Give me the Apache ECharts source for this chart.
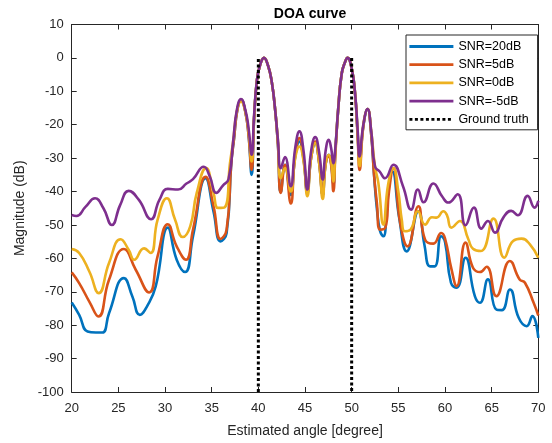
<!DOCTYPE html>
<html>
<head>
<meta charset="utf-8">
<script src="https://cdn.jsdelivr.net/npm/echarts@6/dist/echarts.min.js"></script>
<style>
html,body{margin:0;padding:0;background:#fff;}
#chart{width:552px;height:443px;}
</style>
</head>
<body>
<div id="chart"></div>
<script>
// ---- data: [angle (deg), magnitude (dB)] ----
const snr20 = [
 [20,-73.2],[20.8,-76.9],[21.7,-81.9],[22.6,-82.2],[23.3,-82.2],[24.0,-76.4],[25.6,-65.9],[26.5,-71.4],
 [27.3,-76.9],[28.1,-74.2],[29.0,-68.4],[30.3,-50.8],[31.25,-60.4],[32.15,-64.1],[33.0,-53.4],[34.35,-36],
 [35.2,-46],[35.95,-54.9],[36.6,-52.4],[37.1,-31.5],[37.4,-24],[37.75,-15.5],[38.15,-12.5],[38.6,-16],
 [38.95,-23],[39.28,-35],[39.55,-18],[39.85,-6.7],[40.2,-2],[40.6,0],[41.05,-2.4],[41.45,-7.4],[41.8,-15.5],
 [42.1,-26],[42.4,-40.2],[42.86,-32],[43.47,-41],[43.95,-29.5],[44.4,-25],[44.85,-30.5],[45.25,-40.5],
 [45.65,-30],[46.1,-25.5],[46.5,-31],[46.9,-41],[47.2,-32],[47.55,-29],[47.8,-31.5],[48.04,-38],
 [48.25,-28],[48.58,-14.5],[48.94,-4.6],[49.3,-1.2],[49.55,0],[50.0,-3.1],[50.36,-10.5],[50.65,-23],
 [50.85,-31],[51.25,-20.5],[51.7,-15.3],[52.1,-23],[52.4,-35],[52.7,-45],[53.05,-51.9],[53.4,-53.4],
 [53.9,-40],[54.36,-34],[55.1,-48],[55.9,-57.9],[57.15,-45.9],[57.8,-56],[58.4,-62.4],[58.9,-62.4],
 [59.6,-53.4],[60.0,-55],[60.64,-67.3],[61.25,-68.8],[62.2,-59.8],[63.2,-71.3],[63.75,-73.3],[64.6,-66.3],
 [65.5,-75.3],[66.1,-75.5],[66.96,-69.3],[67.9,-77.8],[68.75,-80.3],[69.36,-77.3],[70,-83.8]
];
const snr5 = [
 [20,-64.2],[20.8,-67.4],[21.9,-73],[22.86,-77.4],[24.0,-66.4],[25.6,-57.2],[26.86,-63.4],[28.3,-70.2],
 [29.2,-59.4],[30.3,-49.8],[31.25,-56.4],[32.25,-60.4],[33.0,-51.4],[34.35,-35.6],[35.2,-44.4],[35.95,-54.2],
 [36.6,-51.4],[37.1,-31.5],[37.4,-24],[37.75,-15.5],[38.15,-12.5],[38.6,-16],[38.95,-23],[39.28,-33.5],
 [39.55,-18],[39.85,-6.7],[40.2,-2],[40.6,0],[41.05,-2.4],[41.45,-7.4],[41.8,-15.5],[42.1,-26],[42.4,-40.4],
 [42.86,-32],[43.47,-43.6],[43.95,-29],[44.4,-24],[44.85,-30],[45.25,-40],[45.65,-30],[46.1,-25],[46.5,-31],
 [46.9,-41],[47.2,-32],[47.55,-29.5],[47.8,-32],[48.04,-39.9],[48.25,-29],[48.58,-14.5],[48.94,-4.6],
 [49.3,-1.2],[49.55,0],[50.0,-3.1],[50.36,-10.5],[50.65,-24],[50.85,-33.5],[51.25,-20.5],[51.7,-15.3],
 [52.1,-23],[52.4,-35],[52.7,-43.4],[53.05,-51.4],[53.6,-50.9],[54.0,-40],[54.47,-33],[55.2,-49.4],
 [56.0,-56.4],[57.15,-44.4],[57.87,-54.4],[58.75,-55.6],[59.6,-52.4],[60.0,-54],[60.7,-63.3],[61.25,-68.3],
 [62.2,-55.3],[63.0,-62.8],[63.75,-64.1],[64.46,-62.5],[65.5,-71.3],[66.96,-60.8],[68.0,-66.3],[68.57,-67.3],
 [69.5,-73.3],[70,-77.1]
];
const snr0 = [
 [20,-57.2],[20.8,-58.4],[21.9,-64],[22.9,-70.4],[24.0,-61.4],[25.25,-54.3],[26.1,-57.4],[26.7,-60.4],
 [27.75,-57],[28.46,-58.4],[29.2,-48.5],[30.2,-42],[31.07,-48.4],[31.9,-53.6],[32.7,-50.4],[33.4,-40.4],
 [34.4,-33],[35.2,-40.4],[35.7,-44.9],[36.4,-44.7],[36.96,-31.5],[37.3,-25],[37.7,-16],[38.15,-13],
 [38.6,-16],[38.95,-22],[39.28,-31],[39.55,-17.5],[39.85,-6.7],[40.2,-2],[40.6,0],[41.05,-2.4],[41.45,-7.4],
 [41.8,-15.5],[42.1,-25],[42.4,-36],[42.86,-33],[43.47,-40],[43.95,-30],[44.4,-26.5],[44.85,-31],
 [45.25,-41.4],[45.65,-30],[46.1,-25.5],[46.5,-31],[46.9,-42.2],[47.2,-32],[47.55,-29],[47.8,-31],
 [48.04,-37],[48.25,-28],[48.58,-14.5],[48.94,-4.6],[49.3,-1.2],[49.55,0],[50.0,-3.1],[50.36,-10.5],
 [50.65,-23],[50.85,-32.4],[51.25,-20],[51.7,-15.3],[52.1,-22],[52.5,-32.5],[52.86,-37.4],[53.4,-49.9],
 [53.9,-38],[54.47,-33],[55.0,-40],[55.37,-48.4],[55.7,-51.9],[56.3,-51.4],[57.1,-45.9],[57.87,-49.9],
 [58.6,-47.7],[59.1,-47.8],[59.83,-45.9],[60.2,-47],[60.7,-50.8],[61.6,-48.8],[62.5,-54.3],[63.0,-57.1],
 [63.86,-57.8],[65.2,-48.1],[66.36,-59.8],[67.3,-54.8],[68.2,-54.1],[69.1,-55.8],[70,-59.8]
];
const snrm5 = [
 [20,-47],[20.5,-47.3],[21.5,-44.5],[22.5,-42],[23.4,-45],[24.3,-50],[25.2,-44],[26.1,-39.8],[27.2,-42.5],
 [28.5,-48.3],[29.4,-42.5],[30.3,-39.2],[31.4,-39.4],[32.3,-37.6],[33.0,-36.3],[34.15,-32.6],[34.8,-35.5],
 [35.5,-40.4],[36.2,-38.2],[36.8,-36.3],[37.3,-25],[37.7,-15.5],[38.15,-12.3],[38.6,-15.5],[38.95,-21],
 [39.28,-29],[39.55,-17],[39.85,-6.6],[40.2,-2],[40.6,0],[41.05,-2.4],[41.45,-7.4],[41.8,-15.5],[42.1,-24.5],
 [42.4,-33],[42.86,-29.7],[43.47,-38.4],[43.95,-27],[44.4,-22],[44.85,-28],[45.25,-39.4],[45.65,-28],
 [46.1,-23.7],[46.5,-28],[46.9,-36.4],[47.2,-28],[47.55,-24.5],[47.8,-27],[48.04,-31.5],[48.25,-27],
 [48.58,-14.5],[48.94,-4.6],[49.3,-1.2],[49.55,0],[50.0,-3.1],[50.36,-10.5],[50.65,-22],[50.83,-29.5],
 [51.25,-20],[51.7,-15.3],[52.1,-22],[52.5,-32.5],[53.0,-34],[53.58,-36],[54.47,-32],[55.5,-38.4],
 [56.37,-45.4],[57.1,-39.4],[57.7,-43.2],[58.76,-37.6],[59.7,-41.5],[60.36,-43.3],[61.36,-40.8],[62.2,-50.1],
 [63.1,-44.8],[63.9,-51.1],[64.6,-48.8],[65.36,-52.3],[66.25,-47.8],[67.1,-45.8],[67.8,-47.1],[68.86,-41.3],
 [69.6,-44.8],[70,-42.8]
];
const truthA = [[40,-100],[40,0]];
const truthB = [[50,0],[50,-100]];
const seriesNames = ['SNR=20dB','SNR=5dB','SNR=0dB','SNR=-5dB','Ground truth'];
const seriesColors = ['#0072BD','#D95319','#EDB120','#7E2F8E','#000000'];

const FONT = 'Liberation Sans, Arial, Helvetica, sans-serif';
const AX = '#262626';
const chart = echarts.init(document.getElementById('chart'), null, {renderer:'canvas'});

function curve(name, color, data){
  return {name, type:'line', data, smooth:0.5, showSymbol:false, symbol:'none',
    lineStyle:{color, width:2.6}, itemStyle:{color}, xAxisIndex:0, yAxisIndex:0, z:2};
}
function truth(data){
  return {name:'Ground truth', type:'line', data, showSymbol:false, symbol:'none',
    lineStyle:{color:'#000', width:3, type:[3,2.5], cap:'butt'}, itemStyle:{color:'#000'}, z:3};
}

const option = {
  animation:false,
  backgroundColor:'#fff',
  title:{text:'DOA curve', left:305, top:2, textAlign:'center',
    textStyle:{fontFamily:FONT, fontSize:14, fontWeight:'bold', color:'#000'}},
  grid:{left:71.7, right:13.7, top:24.5, bottom:50.3, containLabel:false},
  legend:{
    orient:'vertical', left:406, top:35, padding:[5,9,4,2], itemGap:5.2,
    itemWidth:44, itemHeight:13.4, backgroundColor:'#fff', borderColor:AX, borderWidth:1,
    itemStyle:{opacity:0}, lineStyle:{width:2.8},
    textStyle:{fontFamily:FONT, fontSize:12.5, color:'#000'},
    data:seriesNames
  },
  xAxis:[
    {type:'value', min:20, max:70, interval:5, position:'bottom',
      name:'Estimated angle [degree]', nameLocation:'middle', nameGap:32,
      nameTextStyle:{fontFamily:FONT, fontSize:14, color:AX},
      axisLine:{show:true, onZero:false, lineStyle:{color:AX, width:1}},
      axisTick:{inside:true, length:5, lineStyle:{color:AX}},
      axisLabel:{fontFamily:FONT, fontSize:13, color:AX, margin:10},
      splitLine:{show:false}},
    {type:'value', min:20, max:70, interval:5, position:'top',
      axisLine:{show:true, onZero:false, lineStyle:{color:AX, width:1}},
      axisTick:{inside:true, length:5, lineStyle:{color:AX}},
      axisLabel:{show:false}, splitLine:{show:false}}
  ],
  yAxis:[
    {type:'value', min:-100, max:10, interval:10, position:'left',
      name:'Magnitude (dB)', nameLocation:'middle', nameGap:38,
      nameTextStyle:{fontFamily:FONT, fontSize:14, color:AX},
      axisLine:{show:true, onZero:false, lineStyle:{color:AX, width:1}},
      axisTick:{inside:true, length:5, lineStyle:{color:AX}},
      axisLabel:{fontFamily:FONT, fontSize:13, color:AX, margin:8},
      splitLine:{show:false}},
    {type:'value', min:-100, max:10, interval:10, position:'right',
      axisLine:{show:true, onZero:false, lineStyle:{color:AX, width:1}},
      axisTick:{inside:true, length:5, lineStyle:{color:AX}},
      axisLabel:{show:false}, splitLine:{show:false}}
  ],
  series:[
    curve(seriesNames[0], seriesColors[0], snr20),
    curve(seriesNames[1], seriesColors[1], snr5),
    curve(seriesNames[2], seriesColors[2], snr0),
    curve(seriesNames[3], seriesColors[3], snrm5),
    truth(truthA),
    truth(truthB)
  ]
};
chart.setOption(option);
</script>
</body>
</html>
